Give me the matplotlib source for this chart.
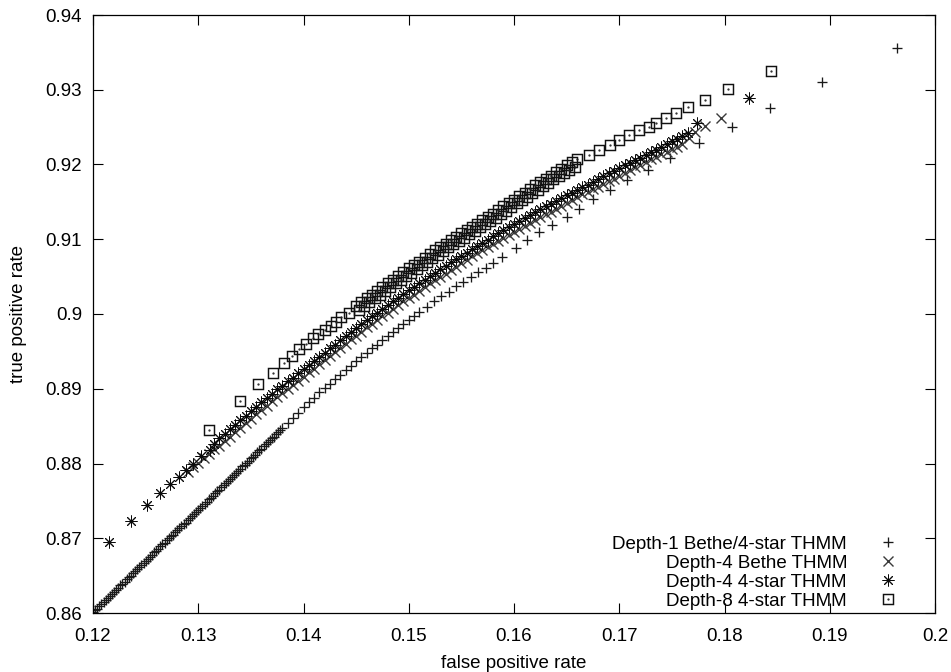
import matplotlib
matplotlib.use('Agg')  # no display
import matplotlib.pyplot as plt
from matplotlib.ticker import FuncFormatter
from matplotlib.legend_handler import HandlerTuple

plt.rcParams['font.family'] = ['Liberation Sans', 'DejaVu Sans']
plt.rcParams['font.size'] = 13.5

# ROC points: false positive rate / true positive rate for each model
labels = ['Depth-1 Bethe/4-star THMM', 'Depth-4 Bethe THMM',
          'Depth-4 4-star THMM', 'Depth-8 4-star THMM']

fpr_d1 = [
    0.1200, 0.1202, 0.1204, 0.1206, 0.1208, 0.1210, 0.1212, 0.1214, 0.1216, 0.1218,
    0.1220, 0.1222, 0.1224, 0.1226, 0.1228, 0.1230, 0.1232, 0.1234, 0.1236, 0.1238,
    0.1240, 0.1242, 0.1244, 0.1246, 0.1248, 0.1250, 0.1252, 0.1254, 0.1256, 0.1258,
    0.1260, 0.1262, 0.1264, 0.1266, 0.1268, 0.1270, 0.1272, 0.1274, 0.1276, 0.1278,
    0.1280, 0.1282, 0.1284, 0.1286, 0.1288, 0.1290, 0.1292, 0.1294, 0.1296, 0.1298,
    0.1300, 0.1302, 0.1304, 0.1306, 0.1308, 0.1310, 0.1312, 0.1314, 0.1316, 0.1318,
    0.1320, 0.1322, 0.1324, 0.1326, 0.1328, 0.1330, 0.1332, 0.1334, 0.1336, 0.1338,
    0.1340, 0.1342, 0.1344, 0.1346, 0.1348, 0.1350, 0.1352, 0.1354, 0.1356, 0.1358,
    0.1360, 0.1362, 0.1364, 0.1366, 0.1368, 0.1370, 0.1372, 0.1374, 0.1376, 0.1378,
    0.1380,
    0.1385, 0.1390, 0.1395, 0.1400, 0.1405, 0.1410, 0.1415, 0.1420, 0.1425, 0.1430,
    0.1435, 0.1440, 0.1445, 0.1450, 0.1455, 0.1460, 0.1465, 0.1470, 0.1475, 0.1480,
    0.1485, 0.1490, 0.1495, 0.1500, 0.1505, 0.1510,
    0.1517, 0.1524, 0.1531, 0.1538, 0.1545, 0.1552, 0.1559, 0.1566, 0.1573, 0.1580,
    0.1589, 0.1602, 0.1612, 0.1624, 0.1636, 0.1650, 0.1662, 0.1675, 0.1691, 0.1707,
    0.1727, 0.1748, 0.1776, 0.1807, 0.1843, 0.1893, 0.1964]
tpr_d1 = [
    0.8601, 0.8604, 0.8606, 0.8609, 0.8612, 0.8615, 0.8617, 0.8620, 0.8623, 0.8626,
    0.8628, 0.8631, 0.8634, 0.8637, 0.8639, 0.8642, 0.8645, 0.8648, 0.8650, 0.8653,
    0.8656, 0.8659, 0.8661, 0.8664, 0.8667, 0.8670, 0.8672, 0.8675, 0.8678, 0.8681,
    0.8683, 0.8686, 0.8689, 0.8692, 0.8694, 0.8697, 0.8700, 0.8703, 0.8705, 0.8708,
    0.8711, 0.8714, 0.8716, 0.8719, 0.8721, 0.8724, 0.8727, 0.8730, 0.8732, 0.8735,
    0.8738, 0.8741, 0.8743, 0.8746, 0.8749, 0.8752, 0.8754, 0.8757, 0.8760, 0.8763,
    0.8765, 0.8768, 0.8771, 0.8774, 0.8776, 0.8779, 0.8782, 0.8785, 0.8787, 0.8790,
    0.8793, 0.8796, 0.8798, 0.8801, 0.8804, 0.8807, 0.8809, 0.8812, 0.8815, 0.8818,
    0.8820, 0.8823, 0.8826, 0.8829, 0.8831, 0.8834, 0.8836, 0.8839, 0.8842, 0.8845,
    0.8847,
    0.8854, 0.8861, 0.8868, 0.8875, 0.8882, 0.8888, 0.8895, 0.8901, 0.8907, 0.8913,
    0.8919, 0.8925, 0.8931, 0.8937, 0.8943, 0.8948, 0.8954, 0.8959, 0.8965, 0.8970,
    0.8976, 0.8981, 0.8987, 0.8992, 0.8997, 0.9003,
    0.9010, 0.9017, 0.9024, 0.9030, 0.9037, 0.9043, 0.9050, 0.9056, 0.9062, 0.9068,
    0.9076, 0.9088, 0.9099, 0.9110, 0.9119, 0.9130, 0.9140, 0.9154, 0.9166, 0.9179,
    0.9193, 0.9209, 0.9229, 0.9250, 0.9276, 0.9310, 0.9356]

fpr_d4b = [
    0.1290, 0.1295, 0.1300, 0.1305, 0.1310, 0.1315,
    0.1320, 0.1325, 0.1330, 0.1335, 0.1340, 0.1345, 0.1350, 0.1355, 0.1360, 0.1365,
    0.1370, 0.1375, 0.1380, 0.1385, 0.1390, 0.1395, 0.1400, 0.1405, 0.1410, 0.1415,
    0.1420, 0.1425, 0.1430, 0.1435, 0.1440, 0.1445, 0.1450, 0.1455, 0.1460, 0.1465,
    0.1470, 0.1475, 0.1480, 0.1485, 0.1490, 0.1495, 0.1500, 0.1505, 0.1510, 0.1515,
    0.1520, 0.1525, 0.1530, 0.1535, 0.1540, 0.1545, 0.1550, 0.1555, 0.1560, 0.1565,
    0.1570, 0.1575, 0.1580, 0.1585, 0.1590, 0.1595, 0.1600, 0.1605, 0.1610, 0.1615,
    0.1620, 0.1625, 0.1630, 0.1635, 0.1640, 0.1645, 0.1650, 0.1655, 0.1660, 0.1665,
    0.1670, 0.1675, 0.1680, 0.1685, 0.1690, 0.1695, 0.1700, 0.1705, 0.1710, 0.1715,
    0.1720, 0.1725, 0.1730, 0.1735, 0.1740, 0.1745, 0.1750, 0.1755, 0.1760,
    0.1766, 0.1772, 0.1781, 0.1797]
tpr_d4b = [
    0.8789, 0.8795, 0.8801, 0.8807, 0.8813, 0.8819,
    0.8824, 0.8830, 0.8836, 0.8842, 0.8848, 0.8854, 0.8860, 0.8866, 0.8872, 0.8877,
    0.8883, 0.8889, 0.8894, 0.8900, 0.8905, 0.8911, 0.8916, 0.8922, 0.8927, 0.8933,
    0.8938, 0.8944, 0.8949, 0.8955, 0.8960, 0.8966, 0.8971, 0.8976, 0.8982, 0.8987,
    0.8992, 0.8997, 0.9002, 0.9007, 0.9012, 0.9017, 0.9022, 0.9026, 0.9031, 0.9036,
    0.9041, 0.9045, 0.9050, 0.9054, 0.9059, 0.9063, 0.9068, 0.9072, 0.9077, 0.9081,
    0.9085, 0.9089, 0.9094, 0.9098, 0.9102, 0.9106, 0.9110, 0.9114, 0.9118, 0.9122,
    0.9126, 0.9130, 0.9134, 0.9137, 0.9141, 0.9145, 0.9149, 0.9152, 0.9156, 0.9160,
    0.9163, 0.9167, 0.9170, 0.9174, 0.9178, 0.9181, 0.9185, 0.9189, 0.9192, 0.9196,
    0.9199, 0.9203, 0.9207, 0.9210, 0.9214, 0.9217, 0.9221, 0.9224, 0.9228,
    0.9236, 0.9243, 0.9252, 0.9262]

fpr_d4s = [
    0.1215, 0.1236, 0.1251, 0.1264, 0.1273, 0.1282, 0.1288, 0.1295, 0.1303, 0.1311,
    0.1315,
    0.1320, 0.1325, 0.1330, 0.1335, 0.1340, 0.1345, 0.1350, 0.1355, 0.1360, 0.1365,
    0.1370, 0.1375, 0.1380, 0.1385, 0.1390, 0.1395, 0.1400, 0.1405, 0.1410, 0.1415,
    0.1420, 0.1425, 0.1430, 0.1435, 0.1440, 0.1445, 0.1450, 0.1455, 0.1460, 0.1465,
    0.1470, 0.1475, 0.1480, 0.1485, 0.1490, 0.1495, 0.1500, 0.1505, 0.1510, 0.1515,
    0.1520, 0.1525, 0.1530, 0.1535, 0.1540, 0.1545, 0.1550, 0.1555, 0.1560, 0.1565,
    0.1570, 0.1575, 0.1580, 0.1585, 0.1590, 0.1595, 0.1600, 0.1605, 0.1610, 0.1615,
    0.1620, 0.1625, 0.1630, 0.1635, 0.1640, 0.1645, 0.1650, 0.1655, 0.1660, 0.1665,
    0.1670, 0.1675, 0.1680, 0.1685, 0.1690, 0.1695, 0.1700, 0.1705, 0.1710, 0.1715,
    0.1720, 0.1725, 0.1730, 0.1735, 0.1740, 0.1745, 0.1750, 0.1755, 0.1760, 0.1765,
    0.1774, 0.1823]
tpr_d4s = [
    0.8695, 0.8723, 0.8744, 0.8760, 0.8772, 0.8782, 0.8791, 0.8800, 0.8810, 0.8818,
    0.8826,
    0.8834, 0.8840, 0.8846, 0.8852, 0.8858, 0.8864, 0.8870, 0.8876, 0.8882, 0.8887,
    0.8893, 0.8899, 0.8904, 0.8910, 0.8915, 0.8921, 0.8926, 0.8932, 0.8937, 0.8943,
    0.8948, 0.8954, 0.8959, 0.8965, 0.8970, 0.8976, 0.8981, 0.8986, 0.8992, 0.8997,
    0.9002, 0.9007, 0.9012, 0.9017, 0.9022, 0.9027, 0.9032, 0.9036, 0.9041, 0.9046,
    0.9051, 0.9055, 0.9060, 0.9064, 0.9069, 0.9073, 0.9078, 0.9082, 0.9087, 0.9091,
    0.9095, 0.9099, 0.9104, 0.9108, 0.9112, 0.9116, 0.9120, 0.9124, 0.9128, 0.9132,
    0.9136, 0.9140, 0.9144, 0.9147, 0.9151, 0.9155, 0.9159, 0.9162, 0.9166, 0.9170,
    0.9173, 0.9177, 0.9180, 0.9184, 0.9188, 0.9191, 0.9195, 0.9199, 0.9202, 0.9206,
    0.9209, 0.9213, 0.9217, 0.9220, 0.9224, 0.9227, 0.9231, 0.9234, 0.9238, 0.9242,
    0.9255, 0.9289]

fpr_d8 = [
    0.13100, 0.13400, 0.13570, 0.13710, 0.13810, 0.13890, 0.13960, 0.14020, 0.14090,
    0.14140, 0.14200, 0.14260, 0.14310, 0.14360, 0.14430,
    0.14500, 0.14525, 0.14550, 0.14575, 0.14600, 0.14625, 0.14650, 0.14675, 0.14700, 0.14725,
    0.14750, 0.14775, 0.14800, 0.14825, 0.14850, 0.14875, 0.14900, 0.14925, 0.14950, 0.14975,
    0.15000, 0.15025, 0.15050, 0.15075, 0.15100, 0.15125, 0.15150, 0.15175, 0.15200, 0.15225,
    0.15250, 0.15275, 0.15300, 0.15325, 0.15350, 0.15375, 0.15400, 0.15425, 0.15450, 0.15475,
    0.15500, 0.15525, 0.15550, 0.15575, 0.15600, 0.15625, 0.15650, 0.15675, 0.15700, 0.15725,
    0.15750, 0.15775, 0.15800, 0.15825, 0.15850, 0.15875, 0.15900, 0.15925, 0.15950, 0.15975,
    0.16000, 0.16025, 0.16050, 0.16075, 0.16100, 0.16125, 0.16150, 0.16175, 0.16200, 0.16225,
    0.16250, 0.16275, 0.16300, 0.16325, 0.16350, 0.16375, 0.16400, 0.16425, 0.16450, 0.16475,
    0.16500, 0.16525, 0.16550, 0.16575, 0.16600,
    0.16710, 0.16810, 0.16910, 0.17000, 0.17090, 0.17190, 0.17280, 0.17350, 0.17440,
    0.17540, 0.17650, 0.17810, 0.18030, 0.18440]
tpr_d8 = [
    0.8845, 0.8883, 0.8906, 0.8921, 0.8934, 0.8944, 0.8953, 0.8960, 0.8968,
    0.8973, 0.8978, 0.8984, 0.8989, 0.8996, 0.9001,
    0.9011, 0.9006, 0.9016, 0.9011, 0.9021, 0.9016, 0.9026, 0.9021, 0.9031, 0.9026,
    0.9036, 0.9031, 0.9041, 0.9036, 0.9046, 0.9041, 0.9051, 0.9046, 0.9056, 0.9051,
    0.9061, 0.9055, 0.9065, 0.9060, 0.9070, 0.9065, 0.9075, 0.9070, 0.9080, 0.9075,
    0.9085, 0.9079, 0.9089, 0.9084, 0.9094, 0.9089, 0.9099, 0.9093, 0.9103, 0.9098,
    0.9108, 0.9102, 0.9112, 0.9107, 0.9117, 0.9111, 0.9121, 0.9116, 0.9126, 0.9120,
    0.9130, 0.9124, 0.9134, 0.9129, 0.9139, 0.9134, 0.9144, 0.9138, 0.9148, 0.9143,
    0.9153, 0.9148, 0.9158, 0.9152, 0.9162, 0.9157, 0.9167, 0.9162, 0.9172, 0.9166,
    0.9176, 0.9171, 0.9181, 0.9175, 0.9185, 0.9180, 0.9190, 0.9184, 0.9194, 0.9189,
    0.9199, 0.9193, 0.9203, 0.9197, 0.9207,
    0.9213, 0.9219, 0.9226, 0.9233, 0.9239, 0.9246, 0.9250, 0.9255, 0.9262,
    0.9269, 0.9277, 0.9286, 0.9301, 0.9325]

x_ticks = [0.12, 0.13, 0.14, 0.15, 0.16, 0.17, 0.18, 0.19, 0.2]
y_ticks = [0.86, 0.87, 0.88, 0.89, 0.9, 0.91, 0.92, 0.93, 0.94]

fig = plt.figure(figsize=(9.51, 6.72), dpi=100)
ax = fig.add_axes([93 / 951, 59 / 672, 842 / 951, 598 / 672])

h1, = ax.plot(fpr_d1, tpr_d1, ls='none', marker='+', ms=7.5, mew=0.95, color='#1a1a1a')
h2, = ax.plot(fpr_d4b, tpr_d4b, ls='none', marker='x', ms=6.5, mew=1.0, color='#3a3a3a')
h3, = ax.plot(fpr_d4s, tpr_d4s, ls='none', marker=(8, 2, 0), ms=8.5, mew=0.7,
              color='#0a0a0a')
h4, = ax.plot(fpr_d8, tpr_d8, ls='none', marker='s', ms=6.5, mew=1.05,
              mfc='none', mec='#111111')
h4dot, = ax.plot(fpr_d8, tpr_d8, ls='none', marker='.', ms=1.2, color='#222222')

ax.set_xlim(x_ticks[0], x_ticks[-1])
ax.set_ylim(y_ticks[0], y_ticks[-1])
ax.set_xticks(x_ticks)
ax.set_yticks(y_ticks)
fmt = FuncFormatter(lambda v, _: f'{round(v, 3):g}')
ax.xaxis.set_major_formatter(fmt)
ax.yaxis.set_major_formatter(fmt)
ax.tick_params(direction='in', length=7, width=0.8, top=True, right=True)
ax.tick_params(axis='x', pad=11)
ax.tick_params(axis='y', pad=8)
for sp in ax.spines.values():
    sp.set_linewidth(0.9)

ax.set_xlabel('false positive rate', labelpad=7)
ax.set_ylabel('true positive rate', labelpad=13)

ax.legend([h1, h2, h3, (h4, h4dot)], labels,
          loc='lower right', bbox_to_anchor=(907 / 951, 62 / 672),
          bbox_transform=fig.transFigure, frameon=False, markerfirst=False,
          handlelength=2.0, handletextpad=1.2, labelspacing=0.1,
          borderpad=0, borderaxespad=0,
          handler_map={tuple: HandlerTuple(ndivide=1)})

plt.savefig('out.png', dpi=100)
print('Saved: out.png')
plt.close()
